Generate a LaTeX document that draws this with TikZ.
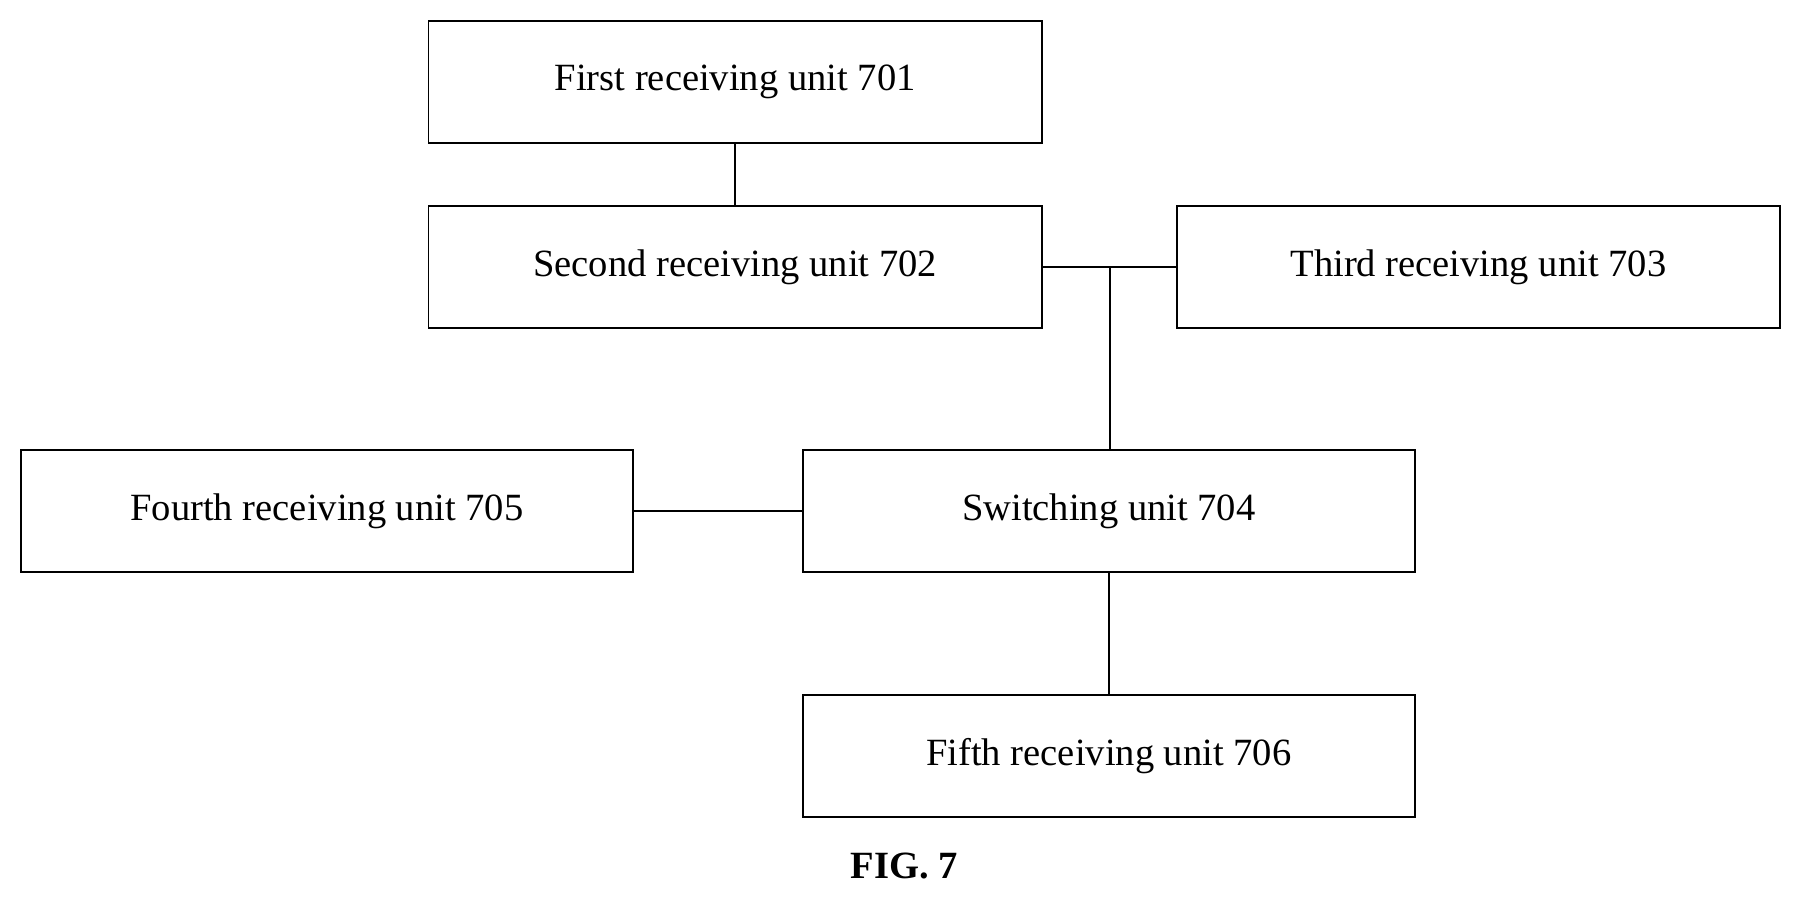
\documentclass[tikz,border=0pt]{standalone}
\usepackage{fontspec}
\setmainfont{Liberation Serif}
\begin{document}
\begin{tikzpicture}[x=0.02cm,y=-0.02cm,
  box/.style={draw,line width=0.9pt,minimum width=531*0.02cm,minimum height=106*0.02cm,inner sep=0pt,font=\fontsize{19}{23}\selectfont},
  line/.style={line width=0.9pt}]
\useasboundingbox (0,0) rectangle (1568,781);
\node[box] (a) at (636.5,71) {First receiving unit 701};
\node[box] (b) at (636.5,231) {Second receiving unit 702};
\node[box,minimum width=522*0.02cm] (c) at (1280,231) {Third receiving unit 703};
\node[box,minimum width=530*0.02cm] (s) at (960,442.5) {Switching unit 704};
\node[box,minimum width=530*0.02cm] (d) at (283,442.5) {Fourth receiving unit 705};
\node[box,minimum width=530*0.02cm] (e) at (960,654.5) {Fifth receiving unit 706};
\node[font=\fontsize{19}{23}\selectfont\bfseries] (f) at (783,750) {FIG. 7};
\coordinate (j) at (961,231);
\draw[line] (a) -- (b);
\draw[line] (b.east) -- (c.west);
\draw[line] (j) -- (j|-s.north);
\draw[line] (d) -- (s);
\draw[line] (s) -- (e);
\end{tikzpicture}
\end{document}
